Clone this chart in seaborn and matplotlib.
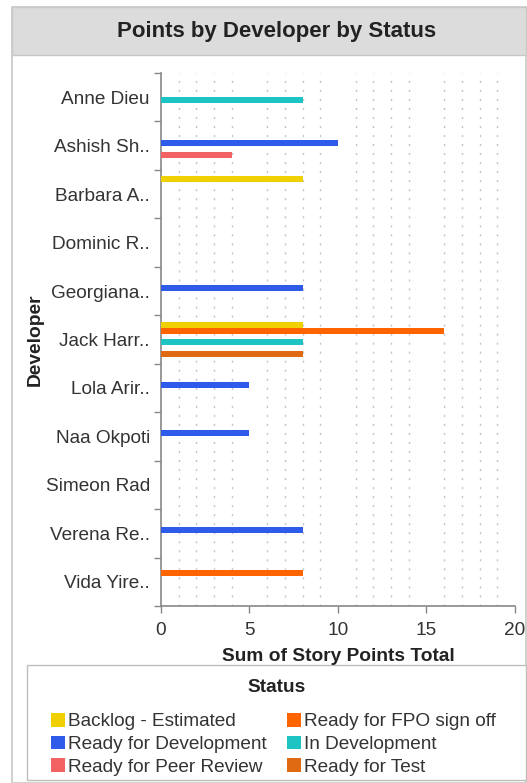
import numpy as np
import pandas as pd
import matplotlib
matplotlib.use('Agg')
import matplotlib.pyplot as plt
from matplotlib.patches import Rectangle, Patch
import seaborn as sns

# data
developers = ['Anne Dieu', 'Ashish Sh..', 'Barbara A..', 'Dominic R..', 'Georgiana..',
              'Jack Harr..', 'Lola Arir..', 'Naa Okpoti', 'Simeon Rad', 'Verena Re..',
              'Vida Yire..']
statuses = ['Backlog - Estimated', 'Ready for FPO sign off', 'Ready for Development',
            'In Development', 'Ready for Peer Review', 'Ready for Test']
backlog = [0, 0, 8, 0, 0, 8, 0, 0, 0, 0, 0]
fpo_signoff = [0, 0, 0, 0, 0, 16, 0, 0, 0, 0, 8]
ready_dev = [0, 10, 0, 0, 8, 0, 5, 5, 0, 8, 0]
in_dev = [8, 0, 0, 0, 0, 8, 0, 0, 0, 0, 0]
peer_review = [0, 4, 0, 0, 0, 0, 0, 0, 0, 0, 0]
ready_test = [0, 0, 0, 0, 0, 8, 0, 0, 0, 0, 0]
colors = ['#f0d000', '#ff6400', '#2f5bea', '#1ec3c3', '#f26262', '#e06a12']

df = pd.DataFrame({'Developer': developers,
                   statuses[0]: backlog, statuses[1]: fpo_signoff,
                   statuses[2]: ready_dev, statuses[3]: in_dev,
                   statuses[4]: peer_review, statuses[5]: ready_test})
long = df.melt(id_vars='Developer', var_name='Status', value_name='Points')

sns.set_style('white')
plt.rcParams['font.family'] = ['Liberation Sans', 'DejaVu Sans']

W, H = 527, 783
fig = plt.figure(figsize=(W / 100, H / 100), dpi=100)

def fx(px):
    return px / W

def fy(py):
    return 1 - py / H

# panel frame + header band
fig.add_artist(Rectangle((fx(12), fy(783)), fx(526) - fx(12), 776 / H,
                         transform=fig.transFigure, facecolor='white',
                         edgecolor='#c8c8c8', lw=1.2, zorder=0))
fig.add_artist(Rectangle((fx(12), fy(55)), fx(526) - fx(12), 48 / H,
                         transform=fig.transFigure, facecolor='#dcdcdc',
                         edgecolor='#c8c8c8', lw=1.0, zorder=0))
fig.text(fx(277), fy(31), 'Points by Developer by Status', ha='center', va='center',
         fontsize=16, fontweight='bold', color='#222222')

ax = fig.add_axes([fx(161), fy(606), fx(515) - fx(161), (606 - 73) / H])
ax.set_facecolor('none')

sns.barplot(data=long, y='Developer', x='Points', hue='Status', order=developers,
            hue_order=statuses, palette=colors, orient='h', width=0.74,
            saturation=1, linewidth=0, errorbar=None, ax=ax, legend=False, zorder=3)

ax.set_xlim(0, 20)
ax.set_ylim(10.5, -0.5)
ax.set_xticks([0, 5, 10, 15, 20])
ax.set_xticks(np.arange(0, 21, 1), minor=True)
ax.xaxis.grid(True, which='minor', color='#c4c4c4', linestyle=(0, (1.5, 5)), lw=1.0)
ax.yaxis.grid(False)
ax.set_yticks(range(len(developers)))
ax.set_yticklabels(developers)
ax.set_yticks(np.arange(-0.5, 11, 1), minor=True)
ax.tick_params(axis='y', which='major', length=0, pad=8, labelsize=13.7, labelcolor='#333333')
ax.tick_params(axis='y', which='minor', length=5, color='#888888', width=1, left=True)
ax.tick_params(axis='x', which='major', length=5, color='#888888', width=1, bottom=True,
               pad=6.5, labelsize=13.7, labelcolor='#333333')
ax.tick_params(axis='x', which='minor', length=0)
for s in ['top', 'right']:
    ax.spines[s].set_visible(False)
for s in ['left', 'bottom']:
    ax.spines[s].set_color('#888888')
    ax.spines[s].set_linewidth(1.2)

ax.set_xlabel('Sum of Story Points Total', fontsize=13.8, fontweight='bold', color='#222222',
              labelpad=6.5)
ax.set_ylabel('Developer', fontsize=13.8, fontweight='bold', color='#222222')
ax.yaxis.set_label_coords((44 - 161) / 354, 0.5)

# legend box
fig.add_artist(Rectangle((fx(27), fy(780)), fx(526) - fx(27), 115 / H,
                         transform=fig.transFigure, facecolor='white',
                         edgecolor='#bdbdbd', lw=1.0, zorder=0))
fig.text(fx(277), fy(687), 'Status', ha='center', va='center', fontsize=13.7,
         fontweight='bold', color='#222222')
# legend fills columns first, so reorder to read row by row like the original
order = [0, 2, 4, 1, 3, 5]
handles = [Patch(facecolor=colors[i], edgecolor='none') for i in order]
labels = [statuses[i] for i in order]
leg = fig.legend(handles, labels, ncol=2, loc='upper left',
                 bbox_to_anchor=(fx(51), fy(713)), frameon=False,
                 fontsize=13.7, handlelength=0.72, handleheight=0.72, handletextpad=0.15,
                 columnspacing=1.1, labelspacing=0.27, borderpad=0, borderaxespad=0)
for t in leg.get_texts():
    t.set_color('#333333')

fig.savefig('out.png', dpi=100)
